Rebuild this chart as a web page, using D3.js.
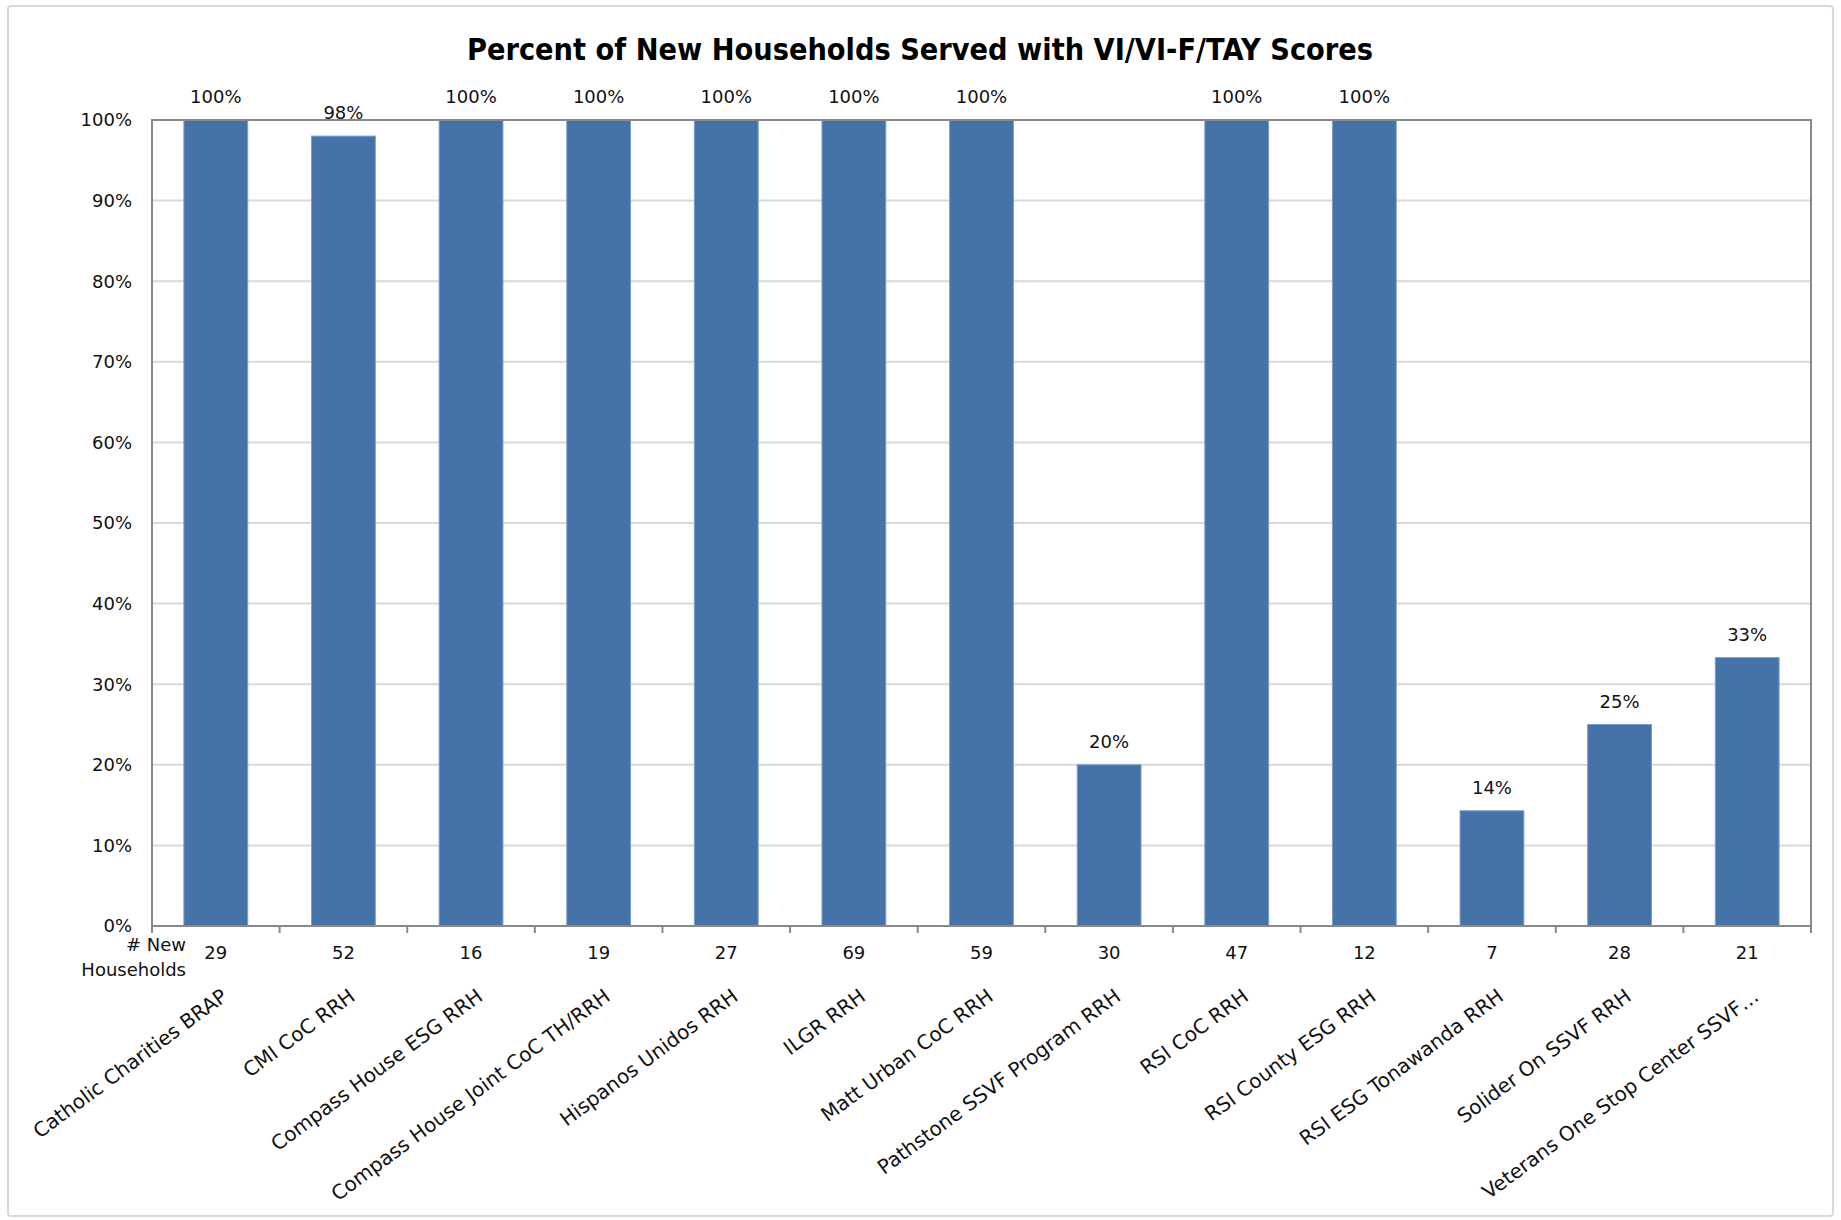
<!DOCTYPE html>
<html>
<head>
<meta charset="utf-8">
<script src="https://cdn.jsdelivr.net/npm/d3@7"></script>
<style>
  body { margin: 0; background: #fff; }
  text { font-family: "DejaVu Sans", sans-serif; fill: #111; }
</style>
</head>
<body>
<svg id="chart"></svg>
<script>
const categories = [
  "Catholic Charities BRAP", "CMI CoC RRH", "Compass House ESG RRH",
  "Compass House Joint CoC TH/RRH", "Hispanos Unidos RRH", "ILGR RRH",
  "Matt Urban CoC RRH", "Pathstone SSVF Program RRH", "RSI CoC RRH",
  "RSI County ESG RRH", "RSI ESG Tonawanda RRH", "Solider On SSVF RRH",
  "Veterans One Stop Center SSVF…"
];
const percents = [100, 98, 100, 100, 100, 100, 100, 20, 100, 100, 14.3, 25, 33.3];
const households = [29, 52, 16, 19, 27, 69, 59, 30, 47, 12, 7, 28, 21];
const yTicks = [0, 10, 20, 30, 40, 50, 60, 70, 80, 90, 100];

const W = 1841, H = 1220;
const plot = { left: 152, right: 1811, top: 120, bottom: 926 };

const svg = d3.select("#chart").attr("width", W).attr("height", H);

// outer chart frame
svg.append("rect")
  .attr("x", 8).attr("y", 6)
  .attr("width", W - 16).attr("height", H - 10)
  .attr("rx", 3)
  .attr("fill", "#fff")
  .attr("stroke", "#d9d9d9")
  .attr("stroke-width", 2);

// title
svg.append("text")
  .attr("x", 920).attr("y", 60)
  .attr("text-anchor", "middle")
  .attr("textLength", 906)
  .attr("lengthAdjust", "spacingAndGlyphs")
  .style("font-size", "31px")
  .style("font-weight", "bold")
  .style("fill", "#000")
  .text("Percent of New Households Served with VI/VI-F/TAY Scores");

const x = d3.scaleBand()
  .domain(categories)
  .range([plot.left, plot.right])
  .paddingInner(0.5)
  .paddingOuter(0.25);

const y = d3.scaleLinear()
  .domain([0, 100])
  .range([plot.bottom, plot.top]);

// gridlines
svg.append("g")
  .selectAll("line")
  .data(yTicks.filter(d => d > 0 && d < 100))
  .join("line")
  .attr("x1", plot.left).attr("x2", plot.right)
  .attr("y1", d => y(d)).attr("y2", d => y(d))
  .attr("stroke", "#d9d9d9")
  .attr("stroke-width", 2);

// y axis labels
svg.append("g")
  .selectAll("text")
  .data(yTicks)
  .join("text")
  .attr("x", 132)
  .attr("y", d => y(d))
  .attr("dy", "0.36em")
  .attr("text-anchor", "end")
  .style("font-size", "18px")
  .text(d => d + "%");

// bars
svg.append("g")
  .selectAll("rect")
  .data(categories)
  .join("rect")
  .attr("x", d => x(d))
  .attr("width", x.bandwidth())
  .attr("y", (d, i) => y(percents[i]))
  .attr("height", (d, i) => y(0) - y(percents[i]))
  .attr("fill", "#4573a8")
  .attr("stroke", "#7c9dca")
  .attr("stroke-width", 1);

// plot frame
svg.append("rect")
  .attr("x", plot.left).attr("y", plot.top)
  .attr("width", plot.right - plot.left)
  .attr("height", plot.bottom - plot.top)
  .attr("fill", "none")
  .attr("stroke", "#898989")
  .attr("stroke-width", 2);

// x tick marks at band boundaries
const step = x.step();
svg.append("g")
  .selectAll("line")
  .data(d3.range(categories.length + 1))
  .join("line")
  .attr("x1", i => plot.left + i * step)
  .attr("x2", i => plot.left + i * step)
  .attr("y1", plot.bottom).attr("y2", plot.bottom + 7)
  .attr("stroke", "#898989")
  .attr("stroke-width", 2);

// value labels
svg.append("g")
  .selectAll("text")
  .data(categories)
  .join("text")
  .attr("x", d => x(d) + x.bandwidth() / 2)
  .attr("y", (d, i) => y(percents[i]) - 17)
  .attr("text-anchor", "middle")
  .style("font-size", "18px")
  .text((d, i) => Math.round(percents[i]) + "%");

// household counts
svg.append("g")
  .selectAll("text")
  .data(categories)
  .join("text")
  .attr("x", d => x(d) + x.bandwidth() / 2)
  .attr("y", 959)
  .attr("text-anchor", "middle")
  .style("font-size", "18px")
  .text((d, i) => households[i]);

svg.append("text")
  .attr("x", 186).attr("y", 951)
  .attr("text-anchor", "end")
  .style("font-size", "18px")
  .text("# New");
svg.append("text")
  .attr("x", 186).attr("y", 976)
  .attr("text-anchor", "end")
  .style("font-size", "18px")
  .text("Households");

// rotated category labels
svg.append("g")
  .selectAll("text")
  .data(categories)
  .join("text")
  .attr("transform", d => `translate(${x(d) + x.bandwidth() / 2 + 13},999) rotate(-36.5)`)
  .attr("text-anchor", "end")
  .style("font-size", "20px")
  .text(d => d);
</script>
</body>
</html>
